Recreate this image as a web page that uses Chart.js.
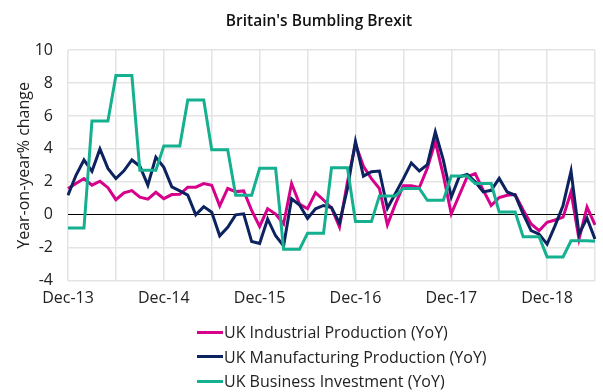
<!DOCTYPE html>
<html>
<head>
<meta charset="utf-8">
<script src="https://cdn.jsdelivr.net/npm/chart.js@4.4.1/dist/chart.umd.min.js"></script>
<style>
  html, body { margin: 0; padding: 0; background: #fff; }
  #wrap { position: relative; width: 603px; height: 392px; }
  #title { position: absolute; left: 219px; width: 200px; top: 9px; text-align: center; font-family: "Open Sans", sans-serif; font-size: 15.5px; font-weight: 600; color: #111; white-space: nowrap; }
  #legend { position: absolute; left: 197px; top: 320px; font-family: "Open Sans", sans-serif; font-size: 16px; color: #222; }
  .item { display: flex; align-items: center; height: 24.5px; white-space: nowrap; }
  .swatch { width: 26px; height: 3px; margin-right: 1px; }
</style>
</head>
<body>
<div id="wrap">
  <canvas id="chart" width="603" height="392"></canvas>
  <div id="title">Britain's Bumbling Brexit</div>
  <div id="legend"></div>
</div>
<script>
// monthly, Dec-13 .. Jun-19
const monthNames = ['Jan','Feb','Mar','Apr','May','Jun','Jul','Aug','Sep','Oct','Nov','Dec'];
const labels = [];
for (let k = 0; k < 67; k++) {
    const m = (11 + k) % 12;
    const y = 13 + Math.floor((11 + k) / 12);
    labels.push(monthNames[m] + '-' + y);
}

const industrial = [1.6, 1.9, 2.2, 1.8, 2.04, 1.65, 0.92, 1.33, 1.47, 1.07, 0.95, 1.37,
    0.98, 1.23, 1.25, 1.68, 1.68, 1.9, 1.8, 0.55, 1.6, 1.41, 1.45, 0.27,
    -0.7, 0.37, 0.05, -0.55, 1.9, 0.65, 0.37, 1.35, 0.9, 0.42, -0.73, 2.0,
    4.3, 2.95, 2.2, 1.6, -0.6, 0.65, 1.77, 1.76, 1.66, 2.82, 4.46, 2.41,
    0.06, 1.19, 2.31, 2.5, 1.5, 0.57, 1.05, 1.19, 1.23, 0.3, -0.55, -0.96,
    -0.45, -0.31, -0.14, 1.39, -1.47, 0.47, -0.61];

const manufacturing = [1.19, 2.4, 3.33, 2.64, 4.0, 2.82, 2.2, 2.67, 3.33, 2.95, 1.8, 3.5,
    2.88, 1.7, 1.45, 1.2, 0.0, 0.5, 0.16, -1.27, -0.76, 0.0, 0.06, -1.62,
    -1.74, -0.25, -1.27, -1.88, 0.98, 0.6, -0.22, 0.37, 0.57, 0.45, -0.5, 1.6,
    4.46, 2.35, 2.62, 2.66, 0.4, 1.3, 2.2, 3.15, 2.66, 3.05, 5.03, 3.33,
    1.08, 2.31, 2.45, 2.0, 1.39, 1.49, 2.21, 1.39, 1.19, 0.06, -0.96, -1.17,
    -1.78, -0.65, 0.57, 2.66, -1.17, -0.2, -1.47];

const investment = [-0.8, -0.8, -0.8, 5.7, 5.7, 5.7, 8.45, 8.45, 8.45, 2.7, 2.7, 2.7,
    4.17, 4.17, 4.17, 6.96, 6.96, 6.96, 3.95, 3.95, 3.95, 1.19, 1.19, 1.19,
    2.82, 2.82, 2.82, -2.08, -2.08, -2.08, -1.12, -1.12, -1.12, 2.86, 2.86, 2.86,
    -0.41, -0.41, -0.41, 1.15, 1.15, 1.15, 1.6, 1.6, 1.6, 0.88, 0.88, 0.88,
    2.35, 2.35, 2.35, 1.9, 1.9, 1.9, 0.17, 0.17, 0.17, -1.33, -1.33, -1.33,
    -2.55, -2.55, -2.55, -1.57, -1.57, -1.57, -1.6];

const seriesNames = ['UK Industrial Production (YoY)', 'UK Manufacturing Production (YoY)', 'UK Business Investment (YoY)'];
const seriesColors = ['#d6008a', '#0c2360', '#14b08f'];

const font = '"Open Sans", sans-serif';

const chart = new Chart(document.getElementById('chart').getContext('2d'), {
    type: 'line',
    data: {
        labels: labels,
        datasets: [
            { label: seriesNames[0], data: industrial, borderColor: seriesColors[0], order: 2 },
            { label: seriesNames[1], data: manufacturing, borderColor: seriesColors[1], order: 1 },
            { label: seriesNames[2], data: investment, borderColor: seriesColors[2], order: 0 }
        ]
    },
    options: {
        responsive: false,
        animation: false,
        devicePixelRatio: 1,
        elements: {
            line: { borderWidth: 3, tension: 0, borderJoinStyle: 'miter' },
            point: { radius: 0 }
        },
        layout: { padding: { left: 0, right: 4, top: 50, bottom: 76 } },
        plugins: {
            legend: { display: false },
            tooltip: { enabled: false },
            title: { display: false }
        },
        scales: {
            x: {
                grid: {
                    color: (c) => (c.index % 6 === 0 ? '#e4e4e4' : 'rgba(0,0,0,0)'),
                    lineWidth: 1.5,
                    drawTicks: false
                },
                border: { display: false },
                ticks: {
                    autoSkip: false,
                    maxRotation: 0,
                    padding: 8,
                    color: '#222',
                    font: { family: font, size: 16 },
                    callback: function (val, i) { return i % 12 === 0 ? this.getLabelForValue(val) : ''; }
                }
            },
            y: {
                min: -4,
                max: 10,
                afterFit: (scale) => { scale.width = 68; },
                grid: {
                    color: (c) => (c.tick && c.tick.value === 0 ? '#000' : '#e4e4e4'),
                    lineWidth: (c) => (c.tick && c.tick.value === 0 ? 1 : 1.5),
                    drawTicks: false
                },
                border: { display: false },
                ticks: {
                    stepSize: 2,
                    padding: 15,
                    color: '#222',
                    font: { family: font, size: 16 }
                },
                title: {
                    display: true,
                    text: 'Year-on-year% change',
                    color: '#222',
                    font: { family: font, size: 16 },
                    padding: { top: 15, bottom: 0 }
                }
            }
        }
    }
});

// legend in a single left-aligned column
const legendBox = document.getElementById('legend');
seriesNames.forEach((name, i) => {
    const row = document.createElement('div');
    row.className = 'item';
    const sw = document.createElement('span');
    sw.className = 'swatch';
    sw.style.background = seriesColors[i];
    row.appendChild(sw);
    row.appendChild(document.createTextNode(name));
    legendBox.appendChild(row);
});
</script>
</body>
</html>
